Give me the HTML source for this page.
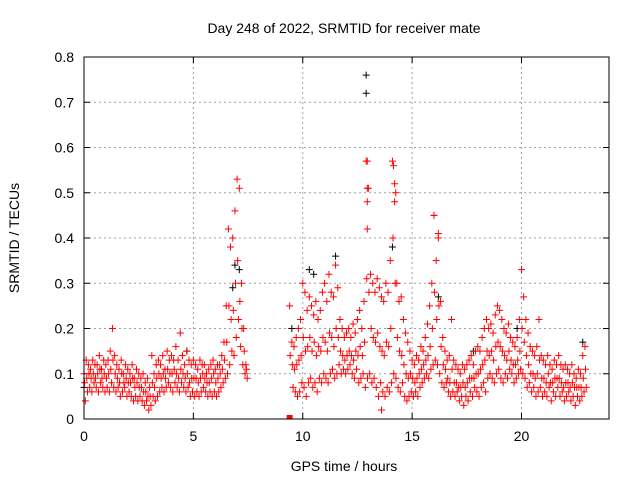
<!DOCTYPE html>
<html><head><meta charset="utf-8"><style>
body{margin:0;background:#fff}
svg{display:block;font-family:"Liberation Sans",sans-serif}
</style></head><body>
<svg id="chart" width="640" height="480" viewBox="0 0 640 480">
<rect width="640" height="480" fill="#fff"/>
<text x="344" y="33" font-size="14" text-anchor="middle">Day 248 of 2022, SRMTID for receiver mate</text>
<text x="344" y="471" font-size="14" text-anchor="middle">GPS time / hours</text>
<text transform="translate(19,238) rotate(-90)" font-size="14" text-anchor="middle">SRMTID / TECUs</text>
<g id="grid"></g>
<g id="ticks"></g>
<g id="black"></g>
<g id="red"></g>
<rect x="84" y="57" width="525" height="362" fill="none" stroke="#000"/>
</svg>
<script>
const xTicks=[0,5,10,15,20];
const yTicks=[0,0.1,0.2,0.3,0.4,0.5,0.6,0.7,0.8];
const yTickLabels=["0","0.1","0.2","0.3","0.4","0.5","0.6","0.7","0.8"];
const seg1Start=0, seg2Start=9.4, step=0.1;
const hi1=[0.10,0.13,0.12,0.11,0.13,0.12,0.12,0.14,0.11,0.13,
0.12,0.13,0.15,0.20,0.14,0.12,0.11,0.13,0.10,0.12,
0.11,0.10,0.12,0.09,0.11,0.10,0.09,0.10,0.08,0.09,
0.07,0.14,0.10,0.12,0.13,0.12,0.14,0.11,0.15,0.13,
0.14,0.13,0.16,0.13,0.19,0.14,0.12,0.15,0.13,0.12,
0.13,0.12,0.11,0.13,0.12,0.12,0.10,0.11,0.12,0.13,
0.11,0.12,0.12,0.14,0.17,0.25,0.42,0.38,0.40,0.46,
0.53,0.51,0.30,0.20,0.12];
const mid1=[0.08,0.09,0.10,0.09,0.10,0.09,0.10,0.11,0.09,0.10,
0.09,0.10,0.11,0.13,0.10,0.09,0.08,0.10,0.08,0.09,
0.08,0.08,0.09,0.07,0.08,0.07,0.07,0.06,0.06,0.05,
0.05,0.08,0.07,0.09,0.10,0.09,0.10,0.09,0.11,0.10,
0.10,0.11,0.10,0.09,0.11,0.10,0.09,0.10,0.08,0.09,
0.09,0.09,0.08,0.09,0.10,0.09,0.08,0.08,0.09,0.10,
0.08,0.09,0.10,0.11,0.13,0.17,0.25,0.22,0.24,0.30,
0.35,0.26,0.20,0.15,0.11];
const lo1=[0.04,0.06,0.07,0.06,0.08,0.07,0.06,0.08,0.07,0.06,
0.07,0.06,0.08,0.07,0.06,0.07,0.05,0.06,0.07,0.05,
0.06,0.05,0.04,0.05,0.04,0.05,0.04,0.03,0.04,0.02,
0.03,0.05,0.04,0.05,0.06,0.07,0.06,0.07,0.08,0.07,
0.06,0.08,0.07,0.06,0.08,0.07,0.06,0.07,0.05,0.06,
0.05,0.06,0.05,0.06,0.07,0.06,0.05,0.06,0.05,0.06,
0.05,0.06,0.07,0.08,0.09,0.10,0.12,0.15,0.14,0.18,
0.22,0.16,0.12,0.10,0.09];
const hi2=[0.25,0.17,0.16,0.18,0.20,0.22,
0.30,0.28,0.24,0.27,0.25,0.23,0.26,0.22,0.24,0.28,
0.30,0.26,0.32,0.28,0.27,0.34,0.29,0.22,0.20,0.18,
0.19,0.20,0.18,0.21,0.19,0.22,0.24,0.20,0.26,0.57,
0.51,0.32,0.30,0.28,0.31,0.29,0.27,0.26,0.30,0.28,
0.35,0.57,0.48,0.30,0.26,0.27,0.22,0.19,0.17,0.15,
0.13,0.12,0.14,0.13,0.16,0.15,0.18,0.21,0.25,0.30,
0.45,0.35,0.41,0.26,0.18,0.15,0.13,0.14,0.22,0.13,
0.12,0.11,0.10,0.12,0.11,0.12,0.13,0.14,0.12,0.15,
0.16,0.15,0.18,0.20,0.22,0.20,0.21,0.19,0.23,0.25,
0.24,0.22,0.20,0.19,0.21,0.18,0.17,0.16,0.18,0.22,
0.33,0.27,0.22,0.19,0.16,0.15,0.14,0.16,0.22,0.14,
0.13,0.12,0.14,0.12,0.11,0.13,0.12,0.14,0.12,0.11,
0.12,0.11,0.10,0.12,0.10,0.09,0.11,0.10,0.14,0.16];
const mid2=[0.14,0.12,0.11,0.12,0.13,0.14,
0.18,0.15,0.16,0.18,0.15,0.17,0.14,0.16,0.15,0.18,
0.17,0.15,0.19,0.18,0.16,0.20,0.18,0.15,0.14,0.13,
0.14,0.15,0.14,0.13,0.15,0.14,0.16,0.14,0.17,0.31,
0.28,0.20,0.18,0.17,0.19,0.16,0.15,0.14,0.17,0.16,
0.20,0.40,0.30,0.18,0.15,0.14,0.12,0.10,0.09,0.10,
0.09,0.08,0.09,0.10,0.11,0.12,0.13,0.14,0.16,0.20,
0.28,0.22,0.25,0.16,0.12,0.11,0.09,0.08,0.11,0.08,
0.08,0.07,0.07,0.08,0.07,0.08,0.09,0.09,0.09,0.10,
0.10,0.11,0.12,0.13,0.15,0.14,0.15,0.13,0.16,0.17,
0.16,0.15,0.14,0.13,0.15,0.13,0.12,0.12,0.13,0.15,
0.20,0.17,0.14,0.12,0.10,0.10,0.09,0.10,0.13,0.09,
0.09,0.08,0.10,0.08,0.08,0.09,0.09,0.09,0.08,0.07,
0.08,0.08,0.07,0.08,0.07,0.07,0.07,0.07,0.09,0.11];
const lo2=[0.00,0.07,0.06,0.05,0.06,0.08,
0.07,0.05,0.08,0.09,0.07,0.08,0.06,0.09,0.08,0.10,
0.09,0.08,0.10,0.11,0.09,0.10,0.12,0.10,0.11,0.10,
0.11,0.12,0.10,0.09,0.11,0.08,0.09,0.10,0.07,0.09,
0.10,0.08,0.09,0.07,0.05,0.08,0.06,0.05,0.07,0.06,
0.08,0.10,0.09,0.07,0.06,0.08,0.05,0.04,0.05,0.06,
0.05,0.06,0.05,0.07,0.08,0.09,0.10,0.09,0.11,0.12,
0.13,0.12,0.10,0.08,0.07,0.08,0.06,0.05,0.06,0.05,
0.06,0.04,0.05,0.03,0.05,0.04,0.06,0.05,0.07,0.06,
0.05,0.07,0.08,0.06,0.09,0.10,0.09,0.08,0.10,0.11,
0.09,0.08,0.10,0.09,0.11,0.10,0.08,0.09,0.10,0.11,
0.10,0.09,0.07,0.08,0.06,0.07,0.05,0.06,0.07,0.05,
0.06,0.05,0.07,0.04,0.06,0.05,0.07,0.05,0.06,0.04,
0.05,0.06,0.04,0.05,0.03,0.05,0.04,0.05,0.06,0.07];
const spikeHours=[12.95,12.95,12.95,12.95,14.15,14.2,16.0,16.2,13.6,14.25];
const spikeValues=[0.57,0.51,0.48,0.42,0.56,0.52,0.45,0.40,0.02,0.50];
const blackHours=[12.9,12.9,13.6,10.5,11.5,16.2,6.9,7.1,14.1,9.5,22.8,0.0,4.7,17.8,19.8,6.8,10.3];
const blackValues=[0.76,0.72,0.02,0.32,0.36,0.27,0.34,0.33,0.38,0.20,0.17,0.07,0.15,0.15,0.20,0.29,0.33];

const X0=84,X1=609,Y0=419,Y1=57,XMAX=24,YMAX=0.8;
const xs=h=>X0+h/XMAX*(X1-X0);
const ys=v=>Y0-v/YMAX*(Y0-Y1);
const NS="http://www.w3.org/2000/svg";
const grid=document.getElementById('grid'),ticks=document.getElementById('ticks');
function mk(tag,attrs,parent){const e=document.createElementNS(NS,tag);for(const k in attrs)e.setAttribute(k,attrs[k]);parent.appendChild(e);return e;}
xTicks.forEach(t=>{
  const x=xs(t);
  const g=mk('line',{x1:x,x2:x,y1:Y0,y2:Y1,stroke:'#a0a0a0','stroke-dasharray':'2,3'},grid);
  
  
  mk('line',{x1:x,x2:x,y1:Y0,y2:Y0-6,stroke:'#000'},ticks);
  mk('line',{x1:x,x2:x,y1:Y1,y2:Y1+6,stroke:'#000'},ticks);
  const l=mk('text',{x:x,y:Y0+22,'font-size':14,'text-anchor':'middle'},ticks);
  l.textContent=t;
  
  
});
yTicks.forEach((t,i)=>{
  const y=ys(t);
  const g=mk('line',{x1:X0,x2:X1,y1:y,y2:y,stroke:'#a0a0a0','stroke-dasharray':'2,3'},grid);
  
  
  mk('line',{x1:X0,x2:X0+6,y1:y,y2:y,stroke:'#000'},ticks);
  mk('line',{x1:X1,x2:X1-6,y1:y,y2:y,stroke:'#000'},ticks);
  const l=mk('text',{x:X0-10,y:y+5,'font-size':14,'text-anchor':'end'},ticks);
  l.textContent=yTickLabels[i];
  
  
});
function cross(h,v,col,g){
  const x=xs(h),y=ys(v);
  const p=mk('path',{d:`M${x-3.5},${y}h7M${x},${y-3.5}v7`,stroke:col,'stroke-width':1,fill:'none'},g);
  
  
}
const bg=document.getElementById('black'),rg=document.getElementById('red');
blackHours.forEach((h,i)=>cross(h,blackValues[i],'#000',bg));
hi1.forEach((v,i)=>cross(seg1Start+i*step,v,'#f00',rg));
mid1.forEach((v,i)=>cross(seg1Start+i*step+step/4,v,'#f00',rg));
lo1.forEach((v,i)=>cross(seg1Start+i*step+step*0.6,v,'#f00',rg));
hi2.forEach((v,i)=>cross(seg2Start+i*step,v,'#f00',rg));
mid2.forEach((v,i)=>cross(seg2Start+i*step+step/4,v,'#f00',rg));
lo2.forEach((v,i)=>{ if(i>0) cross(seg2Start+i*step+step*0.6,v,'#f00',rg); });
spikeHours.forEach((h,i)=>cross(h,spikeValues[i],'#f00',rg));
const sq=mk('rect',{x:xs(9.4)-3,y:ys(0)-4,width:6,height:4,fill:'#f00'},rg);


</script>
</body></html>
